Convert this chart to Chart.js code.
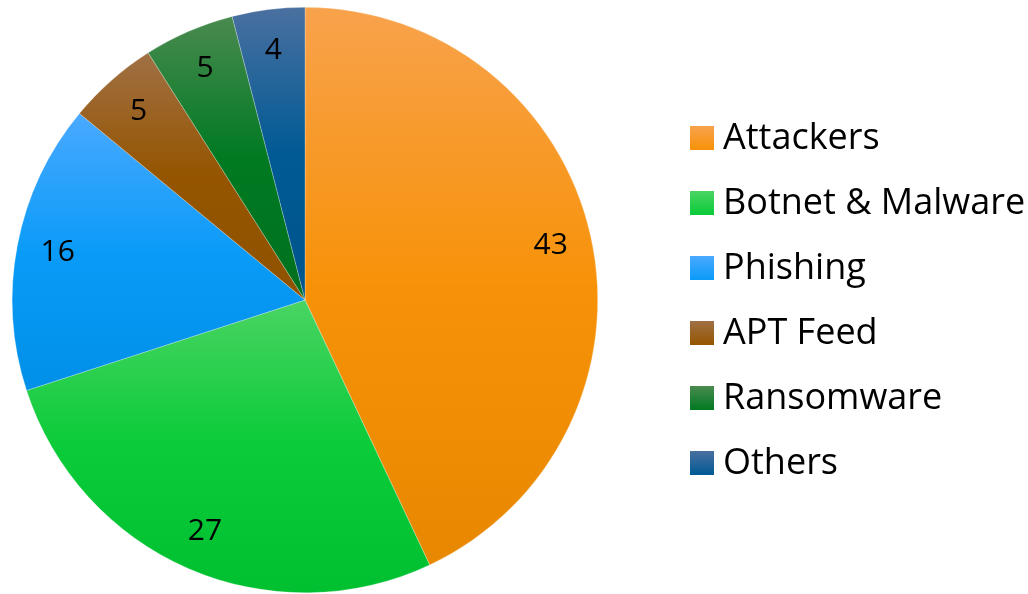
<!DOCTYPE html>
<html>
<head>
<meta charset="utf-8">
<script src="https://cdn.jsdelivr.net/npm/chart.js@4/dist/chart.umd.min.js"></script>
<style>
  html, body { margin: 0; padding: 0; background: #fff; }
  #wrap { position: relative; width: 1028px; height: 594px; }
</style>
</head>
<body>
<div id="wrap"><canvas id="threatPie"></canvas></div>
<script>
// data
const categories = ['Attackers', 'Botnet & Malware', 'Phishing', 'APT Feed', 'Ransomware', 'Others'];
const shares = [43, 27, 16, 5, 5, 4];

// colours: [top, middle, bottom] of each slice gradient
const palette = [
    ['#F8A24C', '#F79208', '#E88800'],
    ['#4AD463', '#0ACB38', '#00C030'],
    ['#4AA9FF', '#0A9BF8', '#0090E8'],
    ['#A07045', '#955500', '#8F5200'],
    ['#4A8A50', '#007A22', '#00701E'],
    ['#4A70A0', '#005A94', '#00558C']
];
const FONT = '"Open Sans", "Noto Sans", sans-serif';

// geometry of the pie, taken from the chart area like the controller does
function pieGeom(chart) {
    const a = chart.chartArea;
    return { cx: (a.left + a.right) / 2, cy: (a.top + a.bottom) / 2, r: Math.min(a.right - a.left, a.bottom - a.top) / 2 };
}
function sliceAngles(i) {
    const total = shares.reduce((s, v) => s + v, 0);
    let before = 0;
    for (let k = 0; k < i; k++) before += shares[k];
    const start = -Math.PI / 2 + before / total * Math.PI * 2;
    return [start, start + shares[i] / total * Math.PI * 2];
}

// vertical gradient over the bounding box of each slice
function sliceFill(ctx) {
    const chart = ctx.chart, i = ctx.dataIndex;
    if (!chart.chartArea || i === undefined) return palette[i || 0][1];
    const g = pieGeom(chart);
    const [s, e] = sliceAngles(i);
    const ys = [g.cy, g.cy + g.r * Math.sin(s), g.cy + g.r * Math.sin(e)];
    for (let t = -Math.PI / 2; t <= Math.PI * 2; t += Math.PI) {
        if (t >= s && t <= e) ys.push(g.cy + g.r * Math.sin(t));
    }
    const top = Math.min(...ys), bot = Math.max(...ys);
    const grad = chart.ctx.createLinearGradient(0, top, 0, bot);
    grad.addColorStop(0, palette[i][0]);
    grad.addColorStop(0.5, palette[i][1]);
    grad.addColorStop(1, palette[i][2]);
    return grad;
}

// value labels inside the slices
const valueLabels = {
    id: 'valueLabels',
    afterDatasetsDraw(chart) {
        const c = chart.ctx;
        const meta = chart.getDatasetMeta(0);
        c.save();
        c.font = '30px ' + FONT;
        c.fillStyle = '#000';
        c.textAlign = 'center';
        c.textBaseline = 'middle';
        meta.data.forEach((arc, i) => {
            const mid = (arc.startAngle + arc.endAngle) / 2;
            const rr = arc.outerRadius * 0.86;
            c.fillText(String(shares[i]), arc.x + Math.cos(mid) * rr, arc.y + Math.sin(mid) * rr);
        });
        c.restore();
    }
};

// legend on the right
const sideLegend = {
    id: 'sideLegend',
    afterDraw(chart) {
        const c = chart.ctx;
        const x = 690, y0 = 138, step = 65, box = 24;
        c.save();
        c.font = '36px ' + FONT;
        c.textBaseline = 'middle';
        c.textAlign = 'left';
        categories.forEach((name, i) => {
            const y = y0 + i * step;
            const grad = c.createLinearGradient(0, y - box / 2, 0, y + box / 2);
            grad.addColorStop(0, palette[i][0]);
            grad.addColorStop(1, palette[i][1]);
            c.fillStyle = grad;
            c.fillRect(x, y - box / 2, box, box);
            c.fillStyle = '#000';
            c.fillText(name, x + box + 9, y + 1);
        });
        c.restore();
    }
};

new Chart(document.getElementById('threatPie'), {
    type: 'pie',
    data: {
        labels: categories,
        datasets: [{ data: shares, backgroundColor: sliceFill, borderWidth: 0.5, borderColor: 'rgba(255,255,255,0.5)' }]
    },
    options: {
        responsive: true, maintainAspectRatio: false, animation: false,
        layout: { padding: { left: 12, right: 430, top: 7, bottom: 1 } },
        plugins: { legend: { display: false }, tooltip: { enabled: false } }
    },
    plugins: [valueLabels, sideLegend]
});
</script>
</body>
</html>
